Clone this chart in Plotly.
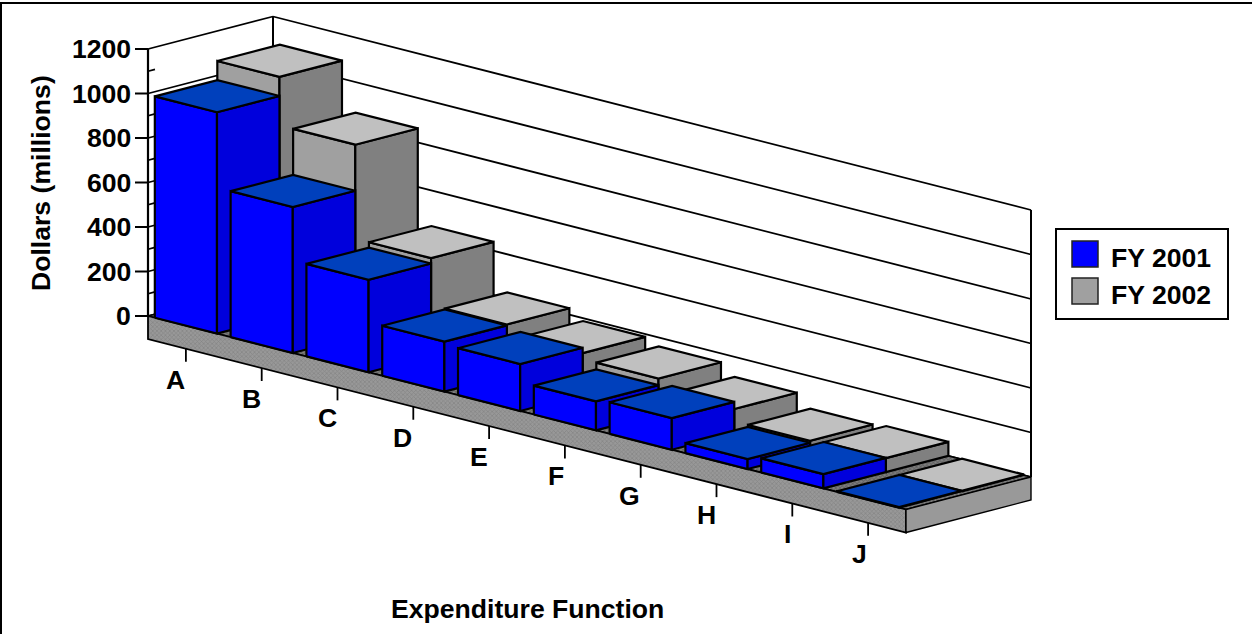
import plotly.graph_objects as go

# ---- data ----
categories = ["A", "B", "C", "D", "E", "F", "G", "H", "I", "J"]
fy2001 = [995, 656, 416, 225, 211, 130, 142, 45, 64, 3]
fy2002 = [1081, 863, 440, 229, 187, 160, 110, 54, 63, 3]
series_names = ["FY 2001", "FY 2002"]
y_ticks = [0, 200, 400, 600, 800, 1000, 1200]
y_minor = [100, 300, 500, 700, 900, 1100]
y_title = "Dollars (millions)"
x_title = "Expenditure Function"

# ---- oblique projection: category position, depth 0..1, value -> page position ----
ORIGIN = (148.0, 316.0)
CAT = (75.8, 19.35)
DEPTH = (125.0, -32.5)
UNIT = 267.0 / 1200.0
FLOOR_T = 23.0
BAR_W = 0.82
GAP = (1 - BAR_W) / 2
FONT = "Liberation Sans"
FS = 26.6
TXT = dict(family=FONT, size=FS, color="#000", weight=700)

COL = {
    0: dict(front="#0000FF", side="#0000DC", top="#0040BC"),
    1: dict(front="#A0A0A0", side="#808080", top="#C0C0C0"),
}


def P(c, d=0.0, v=0.0, drop=0.0):
    return (ORIGIN[0] + c * CAT[0] + d * DEPTH[0],
            ORIGIN[1] + c * CAT[1] + d * DEPTH[1] - v * UNIT + drop)


fig = go.Figure()


def poly(points, fill, lw=2.2, line="#000000", pattern=None):
    xs = [p[0] for p in points] + [points[0][0]]
    ys = [p[1] for p in points] + [points[0][1]]
    fig.add_trace(go.Scatter(x=xs, y=ys, mode="lines", fill="toself", fillcolor=fill,
                             fillpattern=pattern,
                             line=dict(color=line, width=lw), showlegend=False, hoverinfo="skip"))


def seg(a, b, lw=1.8):
    fig.add_trace(go.Scatter(x=[a[0], b[0]], y=[a[1], b[1]], mode="lines",
                             line=dict(color="#000000", width=lw), showlegend=False, hoverinfo="skip"))


TOP = y_ticks[-1]
# walls and grid
for t in y_ticks:
    seg(P(0, 0, t), P(0, 1, t))
    seg(P(0, 1, t), P(10, 1, t))
seg(P(0, 0, 0), P(0, 0, TOP), 2.2)
seg(P(0, 1, 0), P(0, 1, TOP), 2)
seg(P(10, 1, 0), P(10, 1, TOP), 2)
# y ticks
for t in y_ticks:
    a = P(0, 0, t)
    seg((a[0] - 13, a[1]), a, 2)
for t in y_minor:
    a = P(0, 0, t)
    seg(a, P(0, 0.056, t), 1.8)

# floor
dither_top = dict(shape="x", size=3, solidity=0.5, bgcolor="#808080", fgcolor="#404040")
dither_front = dict(shape="x", size=3, solidity=0.4, bgcolor="#989898", fgcolor="#707070")
poly([P(0), P(10), P(10, 1), P(0, 1)], "#5a5a5a", 1.6, pattern=dither_top)
poly([P(0), P(10), P(10, 0, 0, FLOOR_T), P(0, 0, 0, FLOOR_T)], "#8c8c8c", 1.8, pattern=dither_front)
poly([P(10), P(10, 1), P(10, 1, 0, FLOOR_T), P(10, 0, 0, FLOOR_T)], "#999999", 1.4)

# category ticks
for i, name in enumerate(categories):
    a = P(i + 0.5, 0, 0, FLOOR_T)
    seg(a, (a[0], a[1] + 13), 1.8)
    fig.add_annotation(x=a[0] + 1, y=a[1] + 31, text=name, showarrow=False, xanchor="right",
                       yanchor="middle", font=TXT)


def bar(i, s, v):
    d0, d1 = s * 0.5, s * 0.5 + 0.5
    l, r = i + GAP, i + GAP + BAR_W
    c = COL[s]
    poly([P(l, d0), P(r, d0), P(r, d0, v), P(l, d0, v)], c["front"])
    poly([P(r, d0), P(r, d1), P(r, d1, v), P(r, d0, v)], c["side"])
    poly([P(l, d0, v), P(r, d0, v), P(r, d1, v), P(l, d1, v)], c["top"])


for i, v in enumerate(fy2002):
    bar(i, 1, v)
for i, v in enumerate(fy2001):
    bar(i, 0, v)

# y tick labels
for t in y_ticks:
    a = P(0, 0, t)
    fig.add_annotation(x=a[0] - 15, y=a[1], text=str(t), showarrow=False, xanchor="right", yanchor="middle",
                       font=TXT)
fig.add_annotation(x=41, y=183, text=y_title, textangle=-90, showarrow=False, font=TXT)
fig.add_annotation(x=527, y=609, text=x_title, showarrow=False, font=TXT)

# legend and outer rules
shapes = [
    dict(type="line", x0=0, y0=3, x1=1252, y1=3, line=dict(color="#000", width=2)),
    dict(type="line", x0=1, y0=3, x1=1, y1=634, line=dict(color="#000", width=2)),
    dict(type="rect", x0=1056, y0=229, x1=1228, y1=319, line=dict(color="#000", width=2), fillcolor="#fff"),
]
for k, name in enumerate(series_names):
    y0 = 241 + k * 37
    shapes.append(dict(type="rect", x0=1072, y0=y0, x1=1098, y1=y0 + 26, fillcolor=COL[k]["front"],
                       line=dict(color="#222", width=1.5)))
    fig.add_annotation(x=1109, y=y0 + 17, text=name, showarrow=False, xanchor="left", yanchor="middle",
                       font=TXT)

fig.update_layout(
    width=1252, height=634, margin=dict(l=0, r=0, t=0, b=0),
    paper_bgcolor="#fff", plot_bgcolor="#fff", shapes=shapes, showlegend=False,
    xaxis=dict(range=[0, 1252], visible=False, fixedrange=True),
    yaxis=dict(range=[634, 0], visible=False, fixedrange=True),
)
fig.write_html("out.html", config=dict(displayModeBar=False),
               post_script="document.body.style.margin='0';document.body.style.overflow='hidden';")
